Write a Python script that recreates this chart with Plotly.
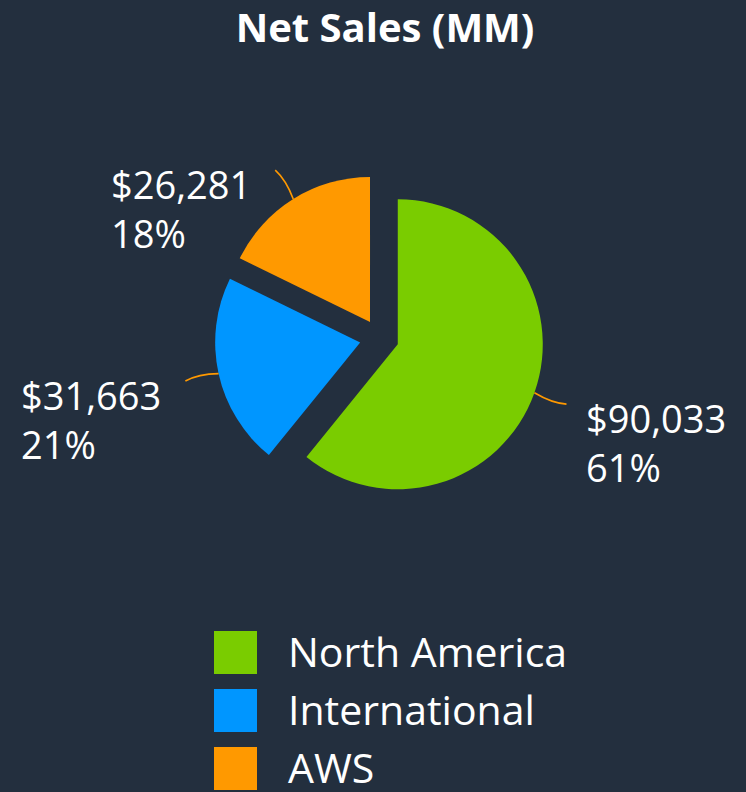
import math
import plotly.graph_objects as go

categories = ["North America", "International", "AWS"]
net_sales = [90033, 31663, 26281]
colors = ["#7ACC00", "#0096FF", "#FF9900"]
pulls = [0.13, 0.14, 0.13]

W, H = 746, 792
BG = "#232F3E"
FONT = "Open Sans"
LINE_COLOR = "#FF9900"

# pie geometry (pixels)
cx, cy = 380, 338
r = 145
R = r * (1 + max(pulls))

fig = go.Figure()
fig.add_trace(go.Pie(
    labels=categories,
    values=net_sales,
    marker=dict(colors=colors, line=dict(width=0)),
    pull=pulls,
    sort=False,
    direction="clockwise",
    rotation=0,
    textinfo="none",
    showlegend=False,
    hoverinfo="label+value+percent",
    domain=dict(x=[(cx - R) / W, (cx + R) / W],
                y=[1 - (cy + R) / H, 1 - (cy - R) / H]),
))


def px(x):
    return x / W


def py(y):
    return 1 - y / H


shapes, annotations = [], []

# outside labels with connector lines, positioned from the slice angles
total = sum(net_sales)
cum = 0
for i, v in enumerate(net_sales):
    frac = v / total
    mid = (cum + frac / 2) * 2 * math.pi
    cum += frac
    dx, dy = math.sin(mid), -math.cos(mid)
    vx, vy = cx + pulls[i] * r * dx, cy + pulls[i] * r * dy
    x0, y0 = vx + r * dx, vy + r * dy
    x1, y1 = vx + (r + 34) * dx, vy + (r + 34) * dy
    # slight bend in the connector
    qx = vx + (r + 20) * dx + (-dy) * 4
    qy = vy + (r + 20) * dy + (dx) * 4
    shapes.append(dict(type="path", xref="paper", yref="paper",
                       path=f"M{px(x0)},{py(y0)} Q{px(qx)},{py(qy)} {px(x1)},{py(y1)}",
                       line=dict(color=LINE_COLOR, width=1.6)))
    right = dx > 0
    annotations.append(dict(xref="paper", yref="paper",
                            x=px(x1 + (18 if right else -22)), y=py(y1 - 14),
                            xanchor="left" if right else "right", yanchor="top",
                            align="left", showarrow=False,
                            text=f"${v:,}<br>{round(frac * 100)}%",
                            font=dict(color="white", size=38, family=FONT)))

# custom legend with large swatches
sw = 43
lx0, ly0, step = 214, 631, 58
for i, (name, col) in enumerate(zip(categories, colors)):
    y_top = ly0 + i * step
    shapes.append(dict(type="rect", xref="paper", yref="paper",
                       x0=px(lx0), x1=px(lx0 + sw),
                       y0=py(y_top + sw), y1=py(y_top),
                       fillcolor=col, line=dict(width=0)))
    annotations.append(dict(xref="paper", yref="paper",
                            x=px(286), y=py(y_top + sw / 2 - 2),
                            xanchor="left", yanchor="middle",
                            text=name, showarrow=False,
                            font=dict(color="white", size=41, family=FONT)))

fig.update_layout(
    width=W, height=H,
    paper_bgcolor=BG, plot_bgcolor=BG,
    margin=dict(l=0, r=0, t=0, b=0),
    title=dict(text="<b>Net Sales (MM)</b>", x=385 / W, xanchor="center",
               y=py(28), yanchor="middle",
               font=dict(color="white", size=40, family=FONT)),
    shapes=shapes,
    annotations=annotations,
)

fig.write_html("out.html",
               config={"displayModeBar": False},
               post_script="document.body.style.margin='0';"
                           "document.body.style.overflow='hidden';")
